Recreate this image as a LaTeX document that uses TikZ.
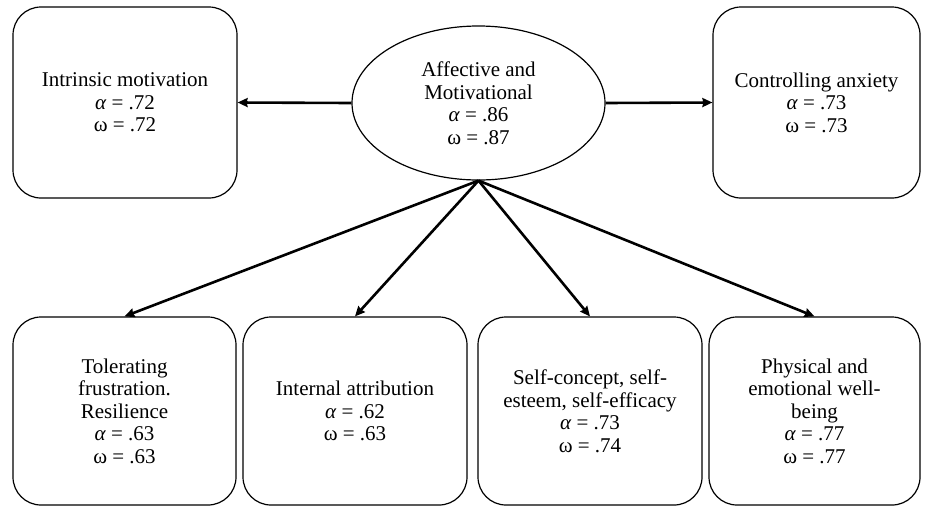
\documentclass[tikz,border=0pt]{standalone}
\usepackage{fontspec}
\setmainfont{Liberation Serif}
\usetikzlibrary{shapes.geometric,arrows.meta}
\newcommand{\al}{\textit{α}}
\begin{document}
\begin{tikzpicture}[x=1pt,y=-1pt,
  every node/.style={font=\fontsize{21}{22.5}\selectfont, align=center, inner sep=0pt},
  facet/.style={draw, line width=1.2pt, rounded corners=28pt},
  factor/.style={draw, line width=1.2pt, ellipse, minimum width=253pt, minimum height=154pt},
  link/.style={line width=2.6pt, -{Stealth[length=10pt,width=9pt,inset=1pt]}}]
\useasboundingbox (0,0) rectangle (925,507);
% central factor
\node[factor] (f) at (478.5,103) {Affective and\\Motivational\\\al{} = .86\\ω = .87};
% top row
\node[facet, minimum width=224pt, minimum height=191pt] (im) at (125,102.5) {Intrinsic motivation\\\al{} = .72\\ω = .72};
\node[facet, minimum width=207pt, minimum height=191pt] (ca) at (816.5,102.5) {Controlling anxiety\\\al{} = .73\\ω = .73};
% bottom row
\node[facet, minimum width=223pt, minimum height=188pt] (tf) at (124.5,411) {Tolerating\\frustration.\\Resilience\\\al{} = .63\\ω = .63};
\node[facet, minimum width=224pt, minimum height=188pt] (ia) at (355,411) {Internal attribution\\\al{} = .62\\ω = .63};
\node[facet, minimum width=224pt, minimum height=188pt] (sc) at (590,411) {Self-concept, self-\\esteem, self-efficacy\\\al{} = .73\\ω = .74};
\node[facet, minimum width=211pt, minimum height=188pt] (pw) at (814.5,411) {Physical and\\emotional well-\\being\\\al{} = .77\\ω = .77};
% connectors
\draw[link] (f.west) -- (im.east);
\draw[link] (f.east) -- (ca.west);
\draw[link] (f.south) -- (tf.north);
\draw[link] (f.south) -- (ia.north);
\draw[link] (f.south) -- (sc.north);
\draw[link] (f.south) -- (pw.north);
\end{tikzpicture}
\end{document}
